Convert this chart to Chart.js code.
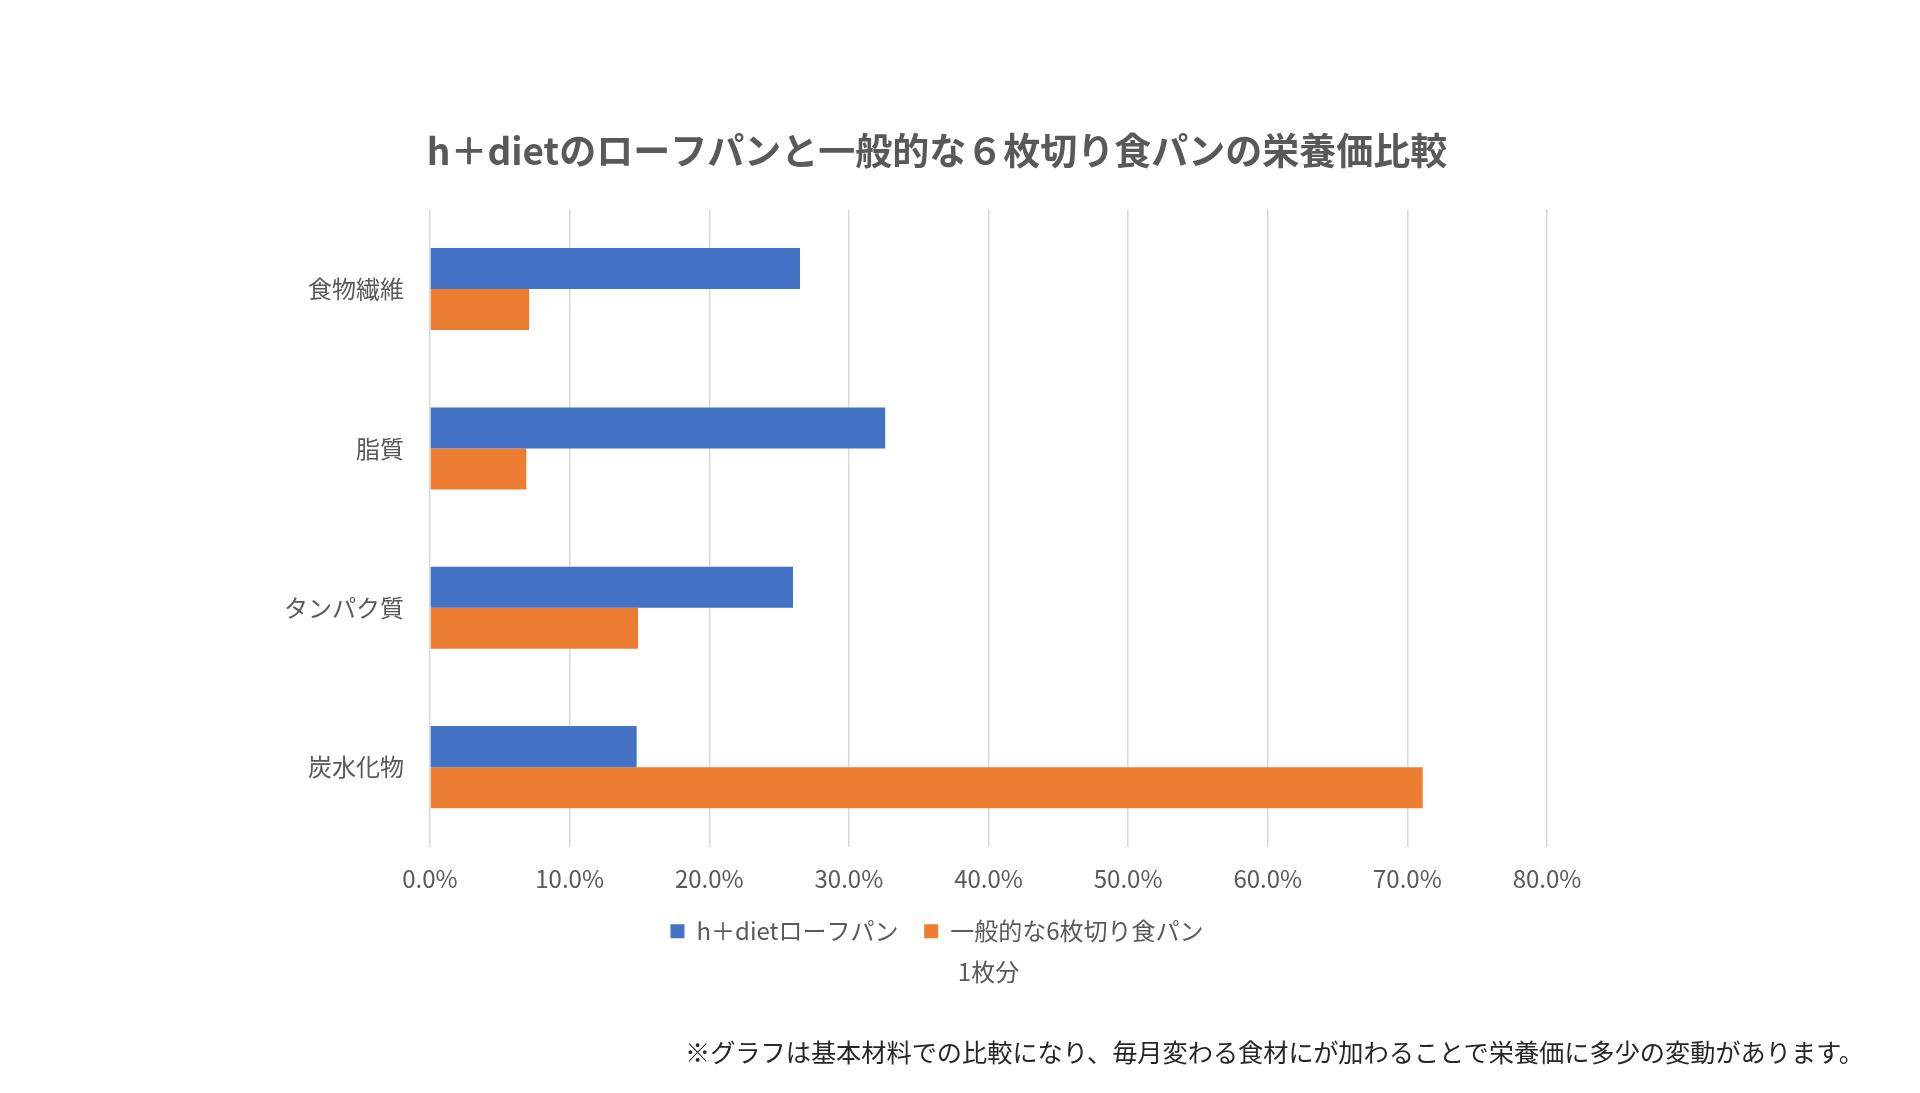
<!DOCTYPE html>
<html lang="ja">
<head>
<meta charset="utf-8">
<title>h＋dietのローフパンと一般的な６枚切り食パンの栄養価比較</title>
<script src="https://cdn.jsdelivr.net/npm/chart.js@4.4.1/dist/chart.umd.min.js"></script>
<style>
    html, body { margin: 0; padding: 0; background: #ffffff; }
    #wrap { position: absolute; left: 0; top: 0; width: 1920px; height: 1093px; }
    #note {
        position: absolute;
        right: 56px;
        top: 1036px;
        font-family: "Noto Sans CJK JP", "Noto Sans", sans-serif;
        font-size: 25.2px;
        line-height: 30px;
        color: #262626;
        white-space: nowrap;
    }
</style>
</head>
<body>
<div id="wrap"><canvas id="barChart"></canvas></div>
<div id="note">※グラフは基本材料での比較になり、毎月変わる食材にが加わることで栄養価に多少の変動があります。</div>
<script>
// categories (top to bottom)
const categories = ['食物繊維', '脂質', 'タンパク質', '炭水化物'];
// values in %
const hdietLoaf = [26.5, 32.6, 26.0, 14.8];
const normalBread = [7.1, 6.9, 14.9, 71.1];
const seriesNames = ['h＋dietローフパン', '一般的な6枚切り食パン'];
const xTickValues = [0, 10, 20, 30, 40, 50, 60, 70, 80];

const FONT = '"Noto Sans CJK JP", "Noto Sans", sans-serif';
const GREY = '#595959';

var ctx = document.getElementById('barChart').getContext('2d');
new Chart(ctx, {
    type: 'bar',
    data: {
        labels: categories,
        datasets: [{
            label: seriesNames[0],
            data: hdietLoaf,
            backgroundColor: '#4472C4',
            borderWidth: 0
        }, {
            label: seriesNames[1],
            data: normalBread,
            backgroundColor: '#ED7D31',
            borderWidth: 0
        }]
    },
    options: {
        indexAxis: 'y',
        responsive: true,
        maintainAspectRatio: false,
        animation: false,
        datasets: {
            bar: { categoryPercentage: 0.515, barPercentage: 1.0 }
        },
        layout: { padding: { left: 258, right: 304, top: 0, bottom: 107 } },
        plugins: {
            title: {
                display: true,
                text: 'h＋dietのローフパンと一般的な６枚切り食パンの栄養価比較',
                color: GREY,
                font: { family: FONT, size: 37, weight: 'bold' },
                padding: { top: 129, bottom: 36 }
            },
            subtitle: {
                display: true,
                position: 'bottom',
                fullSize: false,   // centred under the plot like the axis title
                text: '1枚分',
                color: GREY,
                font: { family: FONT, size: 24 },
                padding: { top: 4, bottom: 0 }
            },
            legend: {
                position: 'bottom',
                labels: {
                    color: GREY,
                    font: { family: FONT, size: 24 },
                    boxWidth: 14,
                    boxHeight: 14,
                    padding: 25.6
                }
            },
            tooltip: { enabled: false }
        },
        scales: {
            x: {
                min: 0,
                max: 80,
                afterBuildTicks: function (scale) {
                    scale.ticks = xTickValues.map(v => ({ value: v }));
                },
                ticks: {
                    color: GREY,
                    font: { family: FONT, size: 24 },
                    padding: 0,
                    callback: function (value) { return value.toFixed(1) + '%'; }
                },
                grid: { color: '#d9d9d9', lineWidth: 1.5, drawTicks: true, tickLength: 18, tickColor: 'rgba(0,0,0,0)' },
                border: { display: false }
            },
            y: {
                afterFit: function (scale) { scale.width = 172; },
                ticks: {
                    color: GREY,
                    font: { family: FONT, size: 24 },
                    padding: 26
                },
                grid: { display: false, drawTicks: false },
                border: { display: false }
            },
            // empty spacer on the right so the title and legend sit where they do in the original
            yRight: {
                type: 'linear',
                position: 'right',
                ticks: { display: false },
                grid: { display: false },
                border: { display: false },
                afterFit: function (scale) { scale.width = 69; }
            }
        }
    }
});
</script>
</body>
</html>
